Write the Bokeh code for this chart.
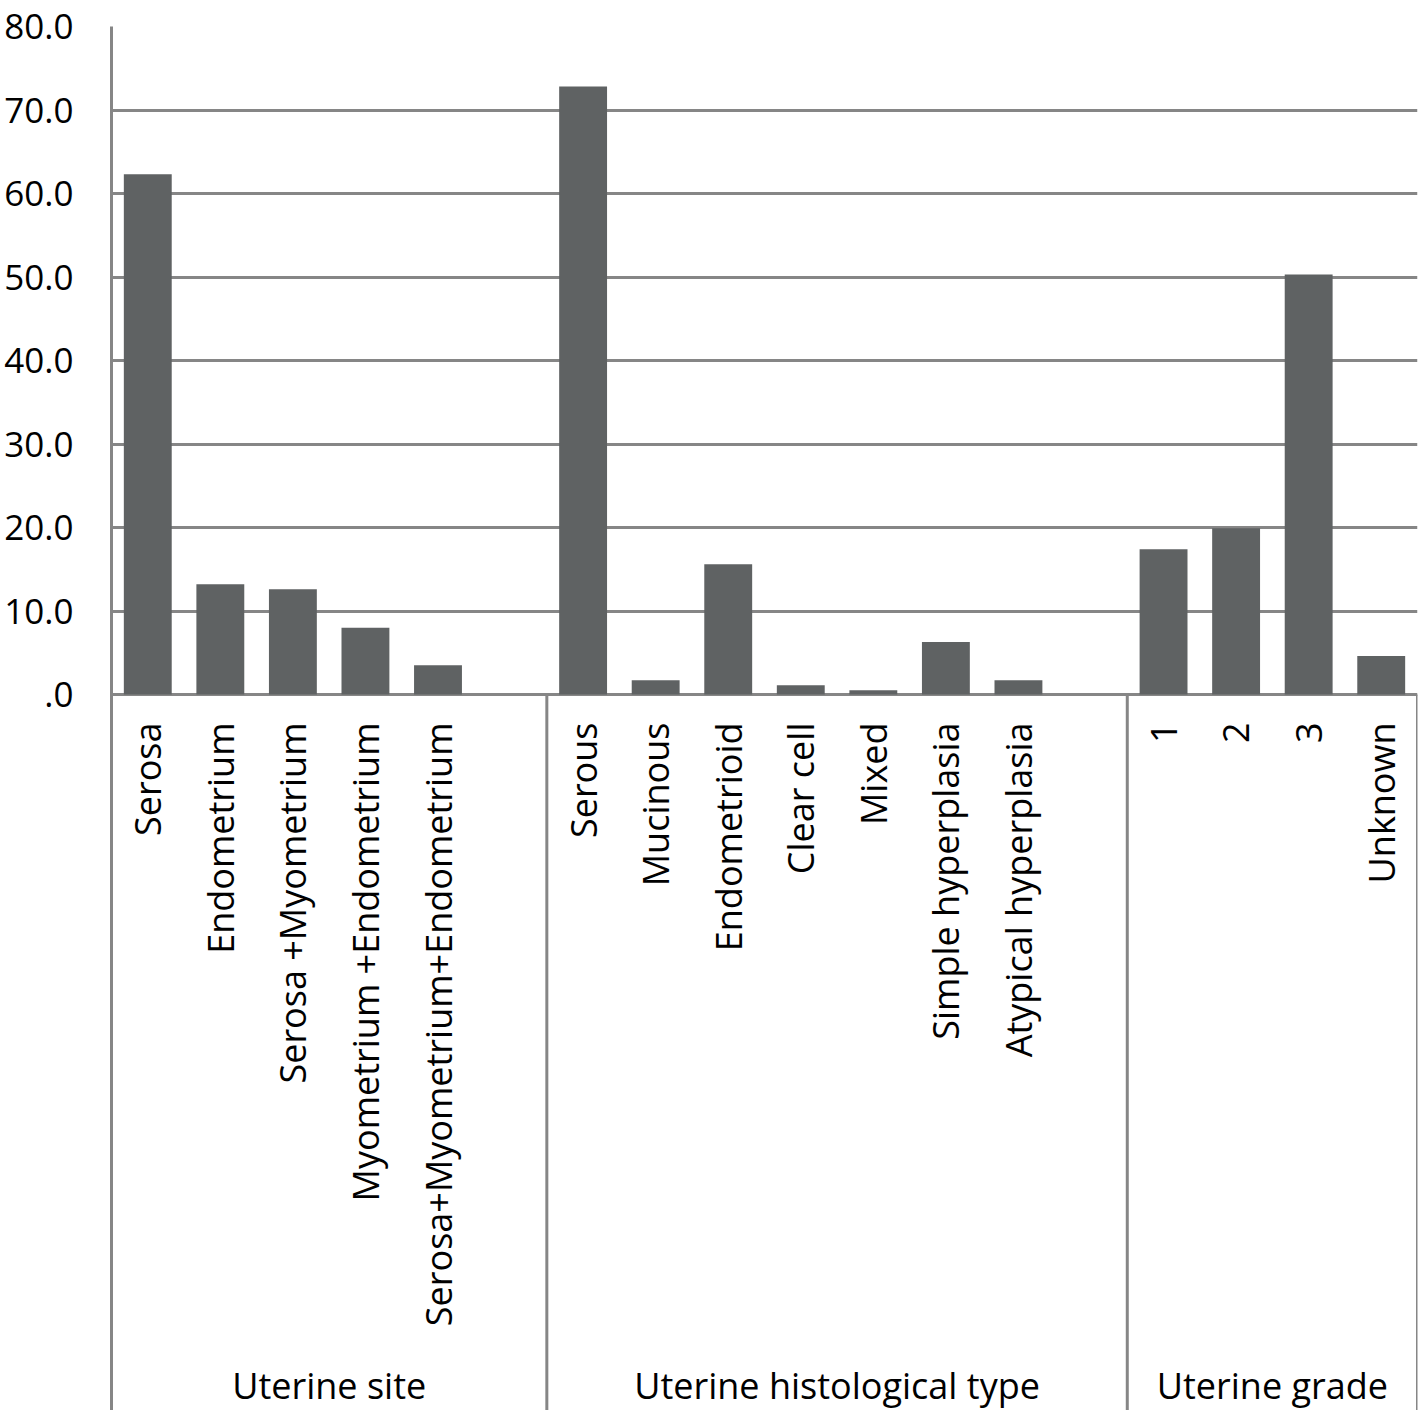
import math
from bokeh.plotting import figure
from bokeh.models import Range1d, FixedTicker, ColumnDataSource
from bokeh.core.properties import value
from bokeh.embed import file_html
from bokeh.resources import INLINE

# ---- data ----
groups = ["Uterine site", "Uterine histological type", "Uterine grade"]
site_labels = ["Serosa", "Endometrium", "Serosa +Myometrium",
               "Myometrium +Endometrium", "Serosa+Myometrium+Endometrium"]
site_values = [62.3, 13.2, 12.6, 8.0, 3.5]
hist_labels = ["Serous", "Mucinous", "Endometrioid", "Clear cell", "Mixed",
               "Simple hyperplasia", "Atypical hyperplasia"]
hist_values = [72.8, 1.7, 15.6, 1.1, 0.5, 6.3, 1.7]
grade_labels = ["1", "2", "3", "Unknown"]
grade_values = [17.4, 19.9, 50.3, 4.6]
y_ticks = [0, 10, 20, 30, 40, 50, 60, 70, 80]
y_tick_labels = [".0", "10.0", "20.0", "30.0", "40.0", "50.0", "60.0", "70.0", "80.0"]

# ---- layout (slots: each group has its categories plus trailing blank slots) ----
group_slots = [6, 8, 4]
group_cats = [site_labels, hist_labels, grade_labels]
group_vals = [site_values, hist_values, grade_values]

xs, tops, labels = [], [], []
bounds = [0]
start = 0
for n, cats, vals in zip(group_slots, group_cats, group_vals):
    for i, (c, v) in enumerate(zip(cats, vals)):
        xs.append(start + i + 0.5)
        tops.append(v)
        labels.append(c)
    start += n
    bounds.append(start)
group_centers = [(bounds[i] + bounds[i + 1]) / 2 for i in range(len(groups))]

W, H = 1422, 1410
top_border = 26
left_border = 111
right_border = 5
zero_px = 694  # figure pixel row of the zero line
scale = (zero_px - top_border) / 80.0
ymin = -(H - zero_px) / scale

FONT = "Open Sans"
FS = "36px"
GRID = "#868686"
BAR = "#5f6263"

p = figure(width=W, height=H, output_backend="svg", toolbar_location=None,
           x_range=Range1d(0, bounds[-1]), y_range=Range1d(ymin, 80),
           x_axis_location=None, min_border_left=left_border,
           min_border_right=right_border,
           min_border_top=top_border, min_border_bottom=0)
p.outline_line_color = None
p.xgrid.visible = False
p.ygrid.ticker = FixedTicker(ticks=y_ticks)
p.ygrid.grid_line_color = GRID
p.ygrid.grid_line_width = 3

ax = p.yaxis[0]
ax.ticker = FixedTicker(ticks=y_ticks)
ax.major_label_overrides = {t: s for t, s in zip(y_ticks, y_tick_labels)}
ax.major_tick_line_color = None
ax.minor_tick_line_color = None
ax.major_tick_out = 0
ax.major_tick_in = 0
ax.major_label_standoff = 38
ax.axis_line_color = GRID
ax.axis_line_width = 3
ax.major_label_text_font = FONT
ax.major_label_text_font_size = "35px"
ax.major_label_text_color = "black"

src = ColumnDataSource(dict(x=xs, top=tops, label=labels))
p.vbar(x="x", top="top", bottom=0, width=0.66, source=src,
       fill_color=BAR, line_color=None)

# separators below the axis
sep_x = bounds[1:]
p.segment(x0=sep_x, y0=[0] * len(sep_x), x1=sep_x, y1=[ymin] * len(sep_x),
          line_color=GRID, line_width=3)

# category labels (rotated)
p.text(x="x", y=0, text="label", source=src, angle=math.pi / 2,
       text_align="right", text_baseline="middle", y_offset=28,
       text_font=value(FONT), text_font_size=FS, text_color="black")

# group labels
p.text(x=group_centers, y=[0] * 3, text=groups, y_offset=691,
       text_align="center", text_baseline="middle",
       text_font=value(FONT), text_font_size=FS, text_color="black")

open("out.html", "w").write(file_html(p, INLINE))
